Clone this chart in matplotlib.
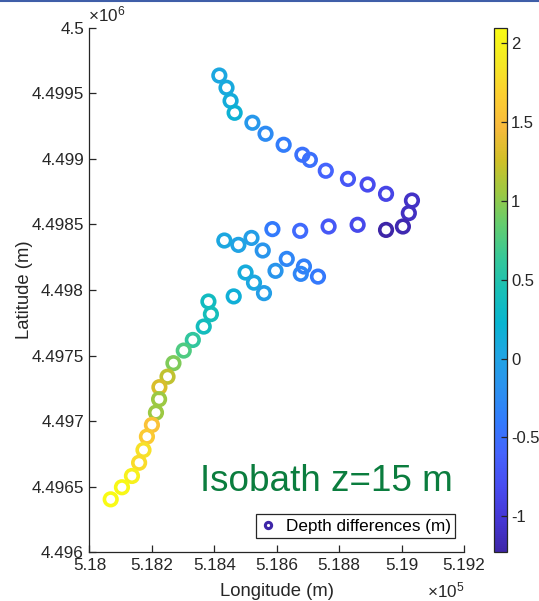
import numpy as np
import matplotlib
matplotlib.use("Agg")
import matplotlib.pyplot as plt
from matplotlib.colors import LinearSegmentedColormap, Normalize
from matplotlib.cm import ScalarMappable
from matplotlib.lines import Line2D
from matplotlib.ticker import FuncFormatter

plt.rcParams['font.family'] = ['Liberation Sans', 'DejaVu Sans']
plt.rcParams['mathtext.fontset'] = 'custom'
plt.rcParams['mathtext.rm'] = 'Liberation Sans'

# survey points along the 15 m isobath (UTM metres) and depth differences (m)
east_m = [518416, 518439, 518452, 518465, 518522, 518564, 518622, 518682, 518706,
          518757, 518828, 518891, 518950, 519033, 519023, 519004, 518950,
          518859, 518766, 518675, 518586, 518519, 518477, 518432, 518555, 518632,
          518687, 518677, 518732, 518596, 518500, 518527, 518559, 518462,
          518381, 518389, 518366, 518331, 518302, 518269, 518250, 518224, 518223,
          518213, 518200, 518184, 518173, 518159, 518136, 518104, 518068]
north_m = [4499635, 4499542, 4499442, 4499351, 4499275, 4499191, 4499107, 4499031, 4498992,
           4498909, 4498847, 4498804, 4498733, 4498682, 4498586, 4498484, 4498458,
           4498497, 4498484, 4498451, 4498464, 4498397, 4498344, 4498377, 4498301, 4498237,
           4498179, 4498123, 4498102, 4498146, 4498133, 4498056, 4497976, 4497951,
           4497912, 4497816, 4497721, 4497619, 4497538, 4497442, 4497339, 4497259, 4497167,
           4497065, 4496971, 4496882, 4496780, 4496683, 4496582, 4496496, 4496404]
depth_diff = [0.05, 0.08, 0.12, 0.18, -0.12, -0.25, -0.38, -0.48, -0.5,
              -0.6, -0.72, -0.82, -0.88, -1.08, -1.1, -1.18, -1.23,
              -0.85, -0.7, -0.55, -0.4, -0.05, 0.0, 0.05, -0.15, -0.3,
              -0.35, -0.3, -0.42, -0.15, 0.1, 0.05, -0.05, 0.15,
              0.35, 0.4, 0.38, 0.6, 0.75, 0.95, 1.2, 1.3, 1.05,
              1.05, 1.55, 1.62, 1.82, 1.78, 1.98, 2.05, 2.1]

xticks = [518000, 518200, 518400, 518600, 518800, 519000, 519200]
yticks = [4496000, 4496500, 4497000, 4497500, 4498000, 4498500, 4499000, 4499500, 4500000]
cticks = [-1, -0.5, 0, 0.5, 1, 1.5, 2]

# parula (every 4th entry of the 64 colour table)
parula_rgb = [
    (0.2422, 0.1504, 0.6603), (0.2706, 0.2147, 0.8364), (0.2813, 0.3006, 0.9414),
    (0.2699, 0.3892, 0.9906), (0.1963, 0.4847, 0.9892), (0.1687, 0.5703, 0.9359),
    (0.1248, 0.6459, 0.8883), (0.0297, 0.7082, 0.8163), (0.0964, 0.7500, 0.7120),
    (0.2161, 0.7843, 0.5923), (0.3909, 0.8029, 0.4354), (0.6174, 0.7876, 0.2612),
    (0.8203, 0.7498, 0.1535), (0.9728, 0.7298, 0.2394), (0.9892, 0.8136, 0.1885),
    (0.9597, 0.9135, 0.1423), (0.9769, 0.9839, 0.0805)]
parula = LinearSegmentedColormap.from_list('parula', parula_rgb, N=256)

fig = plt.figure(figsize=(5.39, 6.01), dpi=100)
ax = fig.add_axes([0.166, 0.081, 0.695, 0.873])

vals = np.array(depth_diff)
norm = Normalize(vmin=vals.min(), vmax=vals.max())
ax.scatter(east_m, north_m, s=82, facecolors='none', edgecolors=parula(norm(vals)),
           linewidths=2.6, zorder=3)

ax.set_xlim(518000, 519200)
ax.set_ylim(4496000, 4500000)
ax.set_xticks(xticks)
ax.set_yticks(yticks)
ax.xaxis.set_major_formatter(FuncFormatter(lambda v, p: f"{v / 1e5:g}"))
ax.yaxis.set_major_formatter(FuncFormatter(lambda v, p: f"{v / 1e6:g}"))
ax.spines['top'].set_visible(False)
ax.spines['right'].set_visible(False)
for s in ['left', 'bottom']:
    ax.spines[s].set_color('#262626')
    ax.spines[s].set_linewidth(0.9)
ax.tick_params(direction='in', length=5, width=0.9, colors='#262626',
               labelsize=12.3, pad=4)
ax.set_xlabel('Longitude (m)', fontsize=13.3, color='#262626', labelpad=7)
ax.set_ylabel('Latitude (m)', fontsize=13.3, color='#262626', labelpad=-1)

fig.text(88 / 539, 1 - 21 / 601, r'$\times\mathregular{10^{6}}$', fontsize=12.3,
         color='#262626', va='baseline', ha='left')
fig.text(427 / 539, 1 - 597 / 601, r'$\times\mathregular{10^{5}}$', fontsize=12.3,
         color='#262626', va='baseline', ha='left')

fig.text(200 / 539, 1 - 491 / 601, 'Isobath z=15 m', fontsize=26.6, color='#0b7d3e',
         va='baseline', ha='left')

h = Line2D([], [], ls='', marker='o', ms=4.5, mfc='none', mec=parula(0.0), mew=2.2)
leg = ax.legend([h], ['Depth differences (m)'], loc='lower right',
                bbox_to_anchor=(455 / 539, 1 - 538 / 601), bbox_transform=fig.transFigure,
                fancybox=False, framealpha=1, edgecolor='#262626', fontsize=12.3,
                handlelength=0.9, handletextpad=0.6, borderpad=0.25, borderaxespad=0)
leg.get_frame().set_linewidth(0.9)

cax = fig.add_axes([493.5 / 539, 0.081, 13.5 / 539, 0.873])
cb = fig.colorbar(ScalarMappable(norm=norm, cmap=parula), cax=cax, ticks=cticks)
cb.ax.set_yticklabels([f"{t:g}" for t in cticks])
cb.outline.set_edgecolor('#262626')
cb.outline.set_linewidth(0.9)
cb.ax.tick_params(direction='in', length=4, width=0.9, colors='#262626',
                  labelsize=12, pad=3)

# thin blue frame line at the top of the screenshot
fig.add_artist(Line2D([0, 1], [0.998, 0.998], transform=fig.transFigure,
                      color='#3f5ea8', lw=1.5))

fig.savefig('out.png', dpi=100)
